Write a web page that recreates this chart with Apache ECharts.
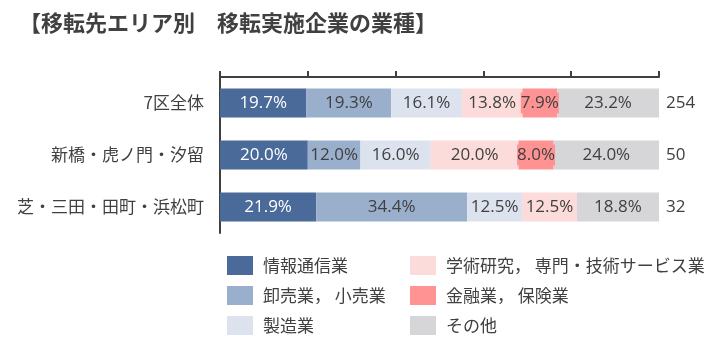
<!DOCTYPE html>
<html><head><meta charset="utf-8">
<script src="https://cdn.jsdelivr.net/npm/echarts@6/dist/echarts.min.js"></script>
<style>html,body{margin:0;padding:0;background:#fff}#c{width:708px;height:351px}</style>
</head><body><div id="c"></div>
<script>
const titleText = '【移転先エリア別　移転実施企業の業種】';
const categories = ['7区全体', '新橋・虎ノ門・汐留', '芝・三田・田町・浜松町'];
const counts = ['254', '50', '32'];
const seriesNames = ['情報通信業', '卸売業， 小売業', '製造業', '学術研究， 専門・技術サービス業', '金融業， 保険業', 'その他'];
const infoComm = [19.7, 20.0, 21.9];
const wholesale = [19.3, 12.0, 34.4];
const manufacturing = [16.1, 16.0, 12.5];
const research = [13.8, 20.0, 12.5];
const finance = [7.9, 8.0, 0];
const other = [23.2, 24.0, 18.8];
const xTicks = [0, 20, 40, 60, 80, 100];

const colors = ['#4A6A9A', '#9AAFCC', '#DCE3EE', '#FCDCDA', '#FF9393', '#D6D6D8'];
const values = [infoComm, wholesale, manufacturing, research, finance, other];
const FONT = '"Noto Sans CJK JP", "Noto Sans", sans-serif';
const NUMFONT = '"Open Sans", "Noto Sans", sans-serif';

const chart = echarts.init(document.getElementById('c'), null, {renderer: 'canvas'});
const series = values.map((arr, i) => ({
  name: seriesNames[i],
  type: 'bar',
  stack: 'total',
  barWidth: 29,
  data: arr.map(v => v === 0 ? null : v),
  itemStyle: {color: colors[i]},
  label: {
    show: true,
    position: 'inside',
    formatter: p => p.value.toFixed(1) + '%',
    color: i === 0 ? '#ffffff' : '#404040',
    fontSize: 17,
    fontFamily: NUMFONT,
    backgroundColor: i === 4 ? colors[4] : 'transparent',
    padding: i === 4 ? [2, 0] : 0
  },
  emphasis: {disabled: true}
}));

const legendCommon = {
  orient: 'vertical', top: 256, itemWidth: 26, itemHeight: 19, itemGap: 11, icon: 'rect', padding: 0,
  textStyle: {fontSize: 17, color: '#404040', fontFamily: FONT, padding: [0, 0, 0, 5]}, selectedMode: false
};

chart.setOption({
  animation: false,
  backgroundColor: '#fff',
  title: {
    text: titleText, left: 14, top: 7,
    textStyle: {fontSize: 22, fontWeight: 'bold', color: '#404040', fontFamily: FONT}
  },
  legend: [
    Object.assign({data: seriesNames.slice(0, 3), left: 227}, legendCommon),
    Object.assign({data: seriesNames.slice(3), left: 410}, legendCommon)
  ],
  grid: {left: 220, right: 49, top: 77, bottom: 118, containLabel: false},
  xAxis: {
    type: 'value', position: 'top', min: xTicks[0], max: xTicks[xTicks.length - 1], interval: xTicks[1] - xTicks[0],
    axisLine: {show: true, lineStyle: {color: '#404040', width: 2}},
    axisTick: {show: true, length: 6, lineStyle: {color: '#404040', width: 2}},
    axisLabel: {show: false}, splitLine: {show: false}
  },
  yAxis: [
    {type: 'category', data: categories, inverse: true,
     axisLine: {show: true, lineStyle: {color: '#404040', width: 2}}, axisTick: {show: false},
     axisLabel: {fontSize: 17, color: '#404040', fontFamily: FONT, margin: 16}},
    {type: 'category', data: counts, inverse: true, position: 'right',
     axisLine: {show: false}, axisTick: {show: false},
     axisLabel: {fontSize: 17, color: '#404040', fontFamily: NUMFONT, margin: 7}}
  ],
  series: series
});
</script></body></html>
